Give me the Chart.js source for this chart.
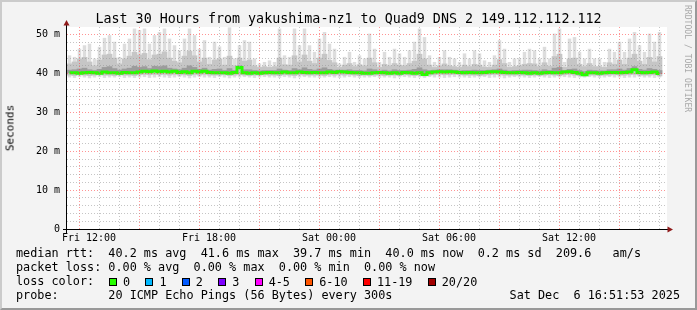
<!DOCTYPE html>
<html><head><meta charset="utf-8">
<script src="https://cdn.jsdelivr.net/npm/chart.js@4.4.1/dist/chart.umd.min.js"></script>
<style>
html,body{margin:0;padding:0;background:#F3F3F3;}
#wrap{position:relative;width:697px;height:310px;overflow:hidden;background:#F3F3F3;}
#frame{position:absolute;left:0;top:0;width:697px;height:310px;box-sizing:border-box;border-top:2px solid #CBCBCB;border-left:2px solid #CBCBCB;border-right:2px solid #999;border-bottom:2px solid #999;pointer-events:none;}
canvas{position:absolute;left:0;top:0;}
.t{position:absolute;font-family:"DejaVu Sans Mono",monospace;white-space:pre;color:#000;line-height:1;}
.leg{font-size:11.8px;}
#lossRow{position:absolute;left:109px;top:276px;height:12px;display:flex;align-items:center;font-family:"DejaVu Sans Mono",monospace;font-size:11.8px;white-space:pre;}
#lossRow .box{display:inline-block;width:6px;height:6px;border:1px solid #000;}
#lossRow .lab{margin-left:6px;margin-right:15.3px;}
</style></head>
<body>
<div id="wrap">
<canvas id="c" width="697" height="310"></canvas>
<div class="t" id="title" style="left:0;top:12px;width:697px;text-align:center;font-size:13.35px;"></div>
<div class="t" id="ylab" style="left:10px;top:128px;font-size:11px;transform:translate(-50%,-50%) rotate(-90deg);">Seconds</div>
<div class="t" id="credit" style="left:692px;top:5px;font-size:8.1px;color:#A8A8A8;transform-origin:0 0;transform:rotate(90deg);">RRDTOOL / TOBI OETIKER</div>
<div class="t leg" id="l1" style="left:16px;top:248px;"></div>
<div class="t leg" id="l2" style="left:16px;top:262px;"></div>
<div class="t leg" id="l3" style="left:16px;top:276px;">loss color:</div>
<div id="lossRow"></div>
<div class="t leg" id="l4" style="left:16px;top:290px;"></div>
<div class="t leg" id="l4r" style="right:17px;top:290px;"></div>
<div id="frame"></div>
</div>
<script>
// ---- data ----
const chartTitle = 'Last 30 Hours from yakushima-nz1 to Quad9 DNS 2 149.112.112.112';
// sample start (hours since Fri 00:00) and spacing of the smoke columns
const firstSampleHour = 11.025;
const sampleStepHours = 0.25;
// light smoke: highest ping of each period (ms)
const smokeMax = [
44.7,44.3,46.4,47.3,47.7,43.9,46.9,49.2,49.9,48.2,
44.3,47.7,49.0,51.6,51.2,51.6,47.7,49.9,50.7,51.6,
49.0,47.3,46.0,49.0,51.6,49.9,46.4,48.6,44.3,48.2,
47.0,44.3,51.9,43.9,47.3,48.6,48.2,43.9,42.6,43.0,
43.4,43.0,51.6,44.7,44.3,51.6,47.3,51.6,47.3,45.6,
49.0,50.7,47.7,46.4,42.6,44.3,45.6,43.0,44.7,43.9,
50.3,46.4,43.0,45.6,44.3,46.4,45.2,44.3,46.0,48.2,
51.6,49.4,44.7,43.0,44.3,46.0,44.3,43.9,43.0,45.2,
43.9,46.0,45.2,43.4,43.0,44.7,48.6,46.4,43.0,43.9,
44.0,45.6,46.4,46.0,43.9,46.9,43.9,50.3,51.6,43.0,
49.0,49.4,45.6,43.9,46.4,43.9,43.9,43.0,46.4,45.6,
48.2,45.6,49.0,50.7,47.3,45.6,50.3,48.2,50.7];
// medium smoke: upper part of the ping spread
const smokeUpper = [
42.5,43.0,43.8,44.2,43.0,42.0,43.5,44.8,45.0,44.0,
42.5,43.8,44.5,45.5,44.8,45.2,43.6,44.8,45.0,45.6,
44.0,43.2,42.8,44.5,45.8,44.6,43.0,44.0,42.4,43.5,
43.8,42.2,44.5,42.0,44.0,43.2,43.5,42.0,41.6,41.8,
41.6,41.8,44.0,42.3,42.2,44.6,43.0,44.8,43.2,42.6,
44.0,45.0,43.4,42.8,41.6,42.2,42.6,41.8,42.3,42.0,
44.0,42.8,41.6,42.4,42.0,42.6,42.2,42.0,42.6,43.2,
45.0,43.8,42.2,41.6,42.0,42.5,42.0,41.8,41.6,42.2,
41.8,42.4,42.2,41.7,41.6,42.2,43.6,42.6,41.6,41.8,
42.0,42.4,42.6,42.5,41.8,42.8,41.9,44.4,45.0,41.6,
43.8,44.0,42.4,41.8,42.6,41.8,41.8,41.6,42.8,42.4,
43.5,42.4,44.0,45.0,43.2,42.4,44.2,43.0,44.4];
// dark smoke: pings just above the median
const smokeCore = [
40.9,41.0,41.2,41.4,41.0,40.8,41.1,41.6,41.8,41.3,
40.9,41.2,41.4,41.9,41.6,41.8,41.3,41.9,41.8,42.0,
41.4,41.2,41.0,41.4,42.0,41.6,41.1,41.4,40.9,41.1,
41.2,40.8,41.3,40.8,42.0,41.0,41.0,40.8,40.7,40.8,
40.8,40.8,41.2,40.9,40.8,41.3,41.0,41.5,41.1,40.9,
41.2,41.5,41.1,40.9,40.9,40.9,41.0,40.8,40.8,40.7,
41.2,41.0,40.7,40.9,40.7,41.0,40.8,40.8,40.9,41.1,
41.5,41.0,40.8,40.9,41.0,41.0,41.0,40.9,40.7,40.8,
40.8,40.9,40.8,40.8,40.9,41.0,41.2,40.9,40.7,40.8,
40.8,40.9,40.9,40.8,40.7,41.0,40.8,41.4,41.6,40.8,
41.1,41.2,40.8,40.5,40.9,40.8,40.7,40.7,41.0,41.0,
41.2,40.9,41.3,41.8,41.1,40.9,41.3,41.1,40.8];
// lower edge of the medium smoke
const smokeLowerMid = [
39.6,39.5,39.7,39.6,39.5,39.6,39.7,39.6,39.6,39.5,
39.7,39.6,39.6,39.5,39.7,39.8,39.7,39.8,39.7,39.8,
39.6,39.8,39.6,39.7,39.5,39.8,39.6,39.8,39.6,39.6,
39.6,39.7,39.5,39.6,39.7,39.6,39.5,39.6,39.6,39.7,
39.6,39.6,39.5,39.7,39.6,39.5,39.7,39.6,39.6,39.6,
39.6,39.5,39.7,39.6,39.7,39.6,39.7,39.6,39.5,39.6,
39.5,39.6,39.6,39.5,39.6,39.6,39.5,39.7,39.6,39.5,
39.6,39.4,39.6,39.7,39.8,39.7,39.7,39.8,39.7,39.6,
39.6,39.6,39.5,39.6,39.7,39.8,39.7,39.6,39.6,39.6,
39.6,39.6,39.5,39.6,39.5,39.6,39.7,39.6,39.5,39.7,
39.8,39.6,39.5,39.4,39.6,39.6,39.5,39.6,39.6,39.7,
39.6,39.6,39.7,39.8,39.6,39.6,39.6,39.7,39.4];
// light smoke: lowest ping of each period
const smokeMin = [
39.0,38.9,39.1,39.0,38.8,39.0,39.1,38.9,39.0,39.0,
39.1,38.9,39.0,38.9,39.0,39.1,38.9,39.0,39.1,39.0,
38.9,39.0,39.1,39.0,38.8,39.0,39.1,39.0,39.0,38.9,
39.1,39.0,38.8,39.0,39.0,39.1,39.0,38.9,39.0,39.1,
39.0,39.0,38.9,39.1,39.0,38.8,39.0,39.1,39.0,39.0,
38.9,39.0,39.1,39.0,38.9,39.0,39.1,39.0,38.9,39.0,
39.0,39.1,38.9,39.0,39.0,38.8,39.0,39.1,39.0,38.9,
39.0,38.9,39.1,39.0,39.0,38.9,39.0,39.1,39.0,39.0,
38.9,39.0,39.0,39.1,38.9,39.0,39.0,38.8,39.0,39.1,
39.0,39.0,38.9,39.0,39.1,39.0,38.9,39.0,39.0,39.1,
39.0,38.9,39.0,39.0,39.1,39.0,38.9,39.0,39.1,39.0,
39.0,38.9,39.0,39.0,39.1,39.0,39.0,38.9,39.0];
// median rtt (ms), all with 0 packet loss
const medianRtt = [
40.2,40.2,40.1,40.2,40.3,40.2,40.1,40.4,40.2,40.2,
40.1,40.3,40.2,40.2,40.4,40.6,40.5,40.7,40.5,40.6,
40.4,40.6,40.3,40.5,40.2,40.6,40.4,40.6,40.3,40.2,
40.2,40.2,40.1,40.3,41.6,40.2,40.1,40.2,40.1,40.2,
40.3,40.2,40.2,40.4,40.2,40.2,40.4,40.3,40.2,40.3,
40.2,40.2,40.4,40.3,40.5,40.4,40.3,40.2,40.2,40.1,
40.1,40.2,40.3,40.2,40.1,40.2,40.1,40.3,40.2,40.1,
40.2,39.8,40.2,40.4,40.5,40.4,40.5,40.4,40.3,40.2,
40.3,40.2,40.2,40.3,40.4,40.5,40.4,40.3,40.2,40.2,
40.3,40.2,40.1,40.2,40.1,40.2,40.3,40.2,40.2,40.4,
40.5,40.3,40.1,39.7,40.2,40.2,40.1,40.2,40.3,40.3,
40.2,40.3,40.4,41.0,40.3,40.2,40.3,40.4,40.0];
// axis tick labels
const xTickHours = [12, 18, 24, 30, 36];
const xTickLabels = ['Fri 12:00', 'Fri 18:00', 'Sat 00:00', 'Sat 06:00', 'Sat 12:00'];
const yLabelValues = [0, 10, 20, 30, 40, 50];
const yLabelTexts = ['0', '10 m', '20 m', '30 m', '40 m', '50 m'];
// legend texts
const medianStats = ['40.2', '41.6', '39.7', '40.0', '0.2', '209.6'];
const lossStats = ['0.00', '0.00', '0.00', '0.00'];
const lossLabels = ['0', '1', '2', '3', '4-5', '6-10', '11-19', '20/20'];
const lossColors = ['#26ff00', '#00b8ff', '#0059ff', '#7e00ff', '#ff00ff', '#ff5500', '#ff0000', '#a10000'];
const probeText = '20 ICMP Echo Pings (56 Bytes) every 300s';
const dateText = 'Sat Dec  6 16:51:53 2025';

// ---- text ----
document.getElementById('title').textContent = chartTitle;
document.getElementById('l1').textContent =
  'median rtt:  ' + medianStats[0] + ' ms avg  ' + medianStats[1] + ' ms max  ' + medianStats[2] +
  ' ms min  ' + medianStats[3] + ' ms now  ' + medianStats[4] + ' ms sd  ' + medianStats[5] + '   am/s';
document.getElementById('l2').textContent =
  'packet loss: ' + lossStats[0] + ' % avg  ' + lossStats[1] + ' % max  ' + lossStats[2] + ' % min  ' + lossStats[3] + ' % now';
document.getElementById('l4').textContent = 'probe:       ' + probeText;
document.getElementById('l4r').textContent = dateText;
const row = document.getElementById('lossRow');
lossLabels.forEach((lab, i) => {
  const b = document.createElement('span'); b.className = 'box'; b.style.background = lossColors[i]; row.appendChild(b);
  const l = document.createElement('span'); l.className = 'lab'; l.textContent = lab; row.appendChild(l);
});

// ---- chart ----
const times = smokeMax.map((_, i) => firstSampleHour + i * sampleStepHours);
const band = (lo, hi) => times.map((t, i) => ({x: t, y: [lo[i], hi[i]]}));
const barCommon = {type: 'bar', grouped: false, categoryPercentage: 1, borderWidth: 0, borderSkipped: false};

const deco = {
  id: 'deco',
  beforeDraw(c) {
    const {ctx, chartArea: a} = c;
    ctx.save(); ctx.fillStyle = '#ffffff';
    ctx.fillRect(a.left, a.top, a.right - a.left, a.bottom - a.top);
    ctx.restore();
  },
  afterDraw(c) {
    const {ctx, chartArea: a} = c;
    ctx.save();
    ctx.strokeStyle = '#000'; ctx.lineWidth = 1;
    ctx.beginPath();
    ctx.moveTo(a.left - 0.5, a.top - 4); ctx.lineTo(a.left - 0.5, a.bottom + 4);
    ctx.moveTo(a.left - 4, a.bottom + 0.5); ctx.lineTo(a.right + 2, a.bottom + 0.5);
    ctx.stroke();
    ctx.fillStyle = '#8f1a1a';
    ctx.beginPath();
    ctx.moveTo(a.left - 0.5, a.top - 7); ctx.lineTo(a.left - 3.5, a.top - 1.5); ctx.lineTo(a.left + 2.5, a.top - 1.5); ctx.closePath(); ctx.fill();
    ctx.beginPath();
    ctx.moveTo(a.right + 6, a.bottom + 0.5); ctx.lineTo(a.right + 0.5, a.bottom - 2.5); ctx.lineTo(a.right + 0.5, a.bottom + 3.5); ctx.closePath(); ctx.fill();
    ctx.restore();
  }
};

const gridGrey = 'rgba(150,150,150,0.55)';
const gridRed = 'rgba(255,60,60,0.55)';

new Chart(document.getElementById('c'), {
  type: 'bar',
  data: {
    datasets: [
      {type: 'line', data: times.map((t, i) => ({x: t, y: medianRtt[i]})), borderColor: '#26ff00', borderWidth: 3,
       pointRadius: 0, stepped: 'middle', fill: false, order: 0},
      Object.assign({data: band(medianRtt, smokeCore), backgroundColor: '#9c9c9c', barPercentage: 1, order: 1}, barCommon),
      Object.assign({data: band(smokeLowerMid, smokeUpper), backgroundColor: '#c6c6c6', barPercentage: 1, order: 2}, barCommon),
      Object.assign({data: band(smokeMin, smokeMax), backgroundColor: '#dddddd', barPercentage: 0.7, order: 3}, barCommon)
    ]
  },
  options: {
    responsive: false, animation: false, devicePixelRatio: 1, events: [],
    layout: {padding: {left: 0, top: 27, right: 30, bottom: 0}},
    plugins: {legend: {display: false}, tooltip: {enabled: false}, title: {display: false}},
    scales: {
      x: {
        type: 'linear', min: 10.9, max: 40.9, offset: false,
        afterBuildTicks(s) {
          const tk = [];
          for (let h = 11; h <= 40; h++) tk.push({value: h});
          s.ticks = tk;
        },
        afterFit(s) { s.height = 81; },
        ticks: {
          autoSkip: false, maxRotation: 0, padding: 3, color: '#000',
          font: {family: 'DejaVu Sans Mono', size: 10},
          callback(v) { const k = xTickHours.indexOf(v); return k >= 0 ? xTickLabels[k] : ''; }
        },
        grid: {z: 1, drawTicks: false, lineWidth: 1,
          color(ctx) { const v = ctx.tick && ctx.tick.value; return v % 3 === 0 ? gridRed : gridGrey; }},
        border: {display: false, dash: [1, 2]}
      },
      y: {
        min: 0, max: 52,
        afterFit(s) { s.width = 67; },
        ticks: {
          stepSize: 2, autoSkip: false, padding: 7, color: '#000',
          font: {family: 'DejaVu Sans Mono', size: 10},
          callback(v) { const k = yLabelValues.indexOf(v); return k >= 0 ? yLabelTexts[k] : ''; }
        },
        grid: {z: 1, drawTicks: false, lineWidth: 1,
          color(ctx) { const v = ctx.tick && ctx.tick.value; if (v === 0 || v >= 52) return 'rgba(0,0,0,0)'; return v % 10 === 0 ? gridRed : gridGrey; }},
        border: {display: false, dash: [1, 2]}
      }
    }
  },
  plugins: [deco]
});
</script>
</body></html>
